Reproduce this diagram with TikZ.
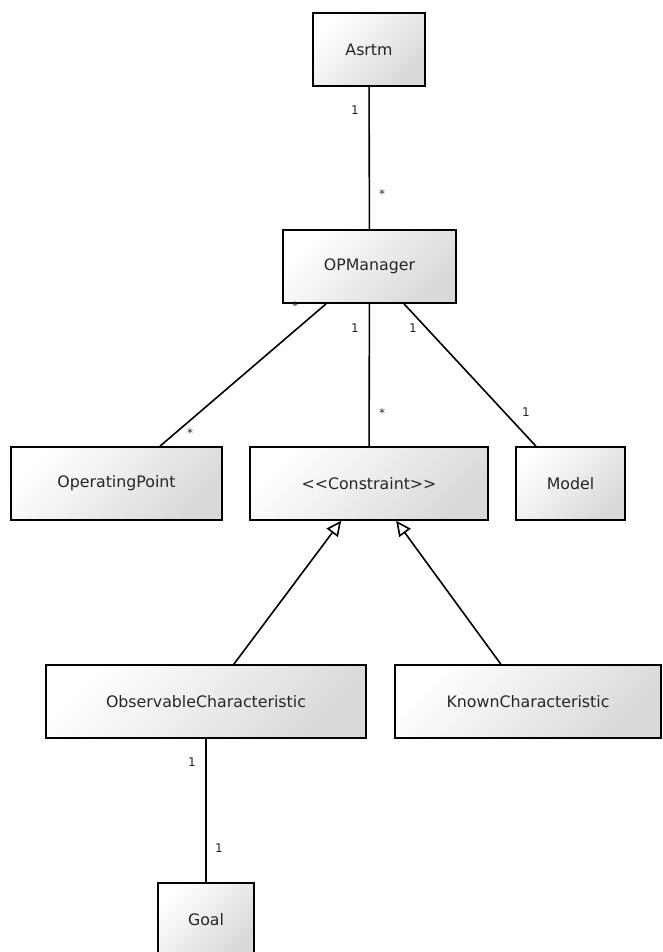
\documentclass[tikz,border=0pt]{standalone}
\usepackage{fontspec}
\setmainfont{DejaVu Sans}
\usetikzlibrary{arrows.meta}
\tikzset{
  cls/.style={draw=black, line width=1.6pt, rectangle, inner sep=0pt,
    top color=white, bottom color=black!15, shading angle=45,
    font=\fontsize{15.8}{19}\selectfont, text=black!85},
  assoc/.style={draw=black, line width=1.6pt},
  gen/.style={draw=black, line width=1.6pt,
    -{Triangle[open, length=15pt, width=14pt, line width=1.6pt, fill=white]}},
  mult/.style={font=\fontsize{12}{14}\selectfont, text=black!85, inner sep=0pt}
}
\begin{document}
\begin{tikzpicture}[x=1pt,y=-1pt]
\path[use as bounding box, clip] (0,0) rectangle (662,952);
\fill[white] (0,0) rectangle (662,952);
% classes
\node[cls, minimum width=112pt, minimum height=73pt] (asrtm) at (369,49.5) {Asrtm};
\node[cls, minimum width=173pt, minimum height=73pt] (opm) at (369.5,266.5) {OPManager};
\node[cls, minimum width=211pt, minimum height=73pt] (op) at (116.5,483.5) {OperatingPoint};
\node[cls, minimum width=238pt, minimum height=73pt] (con) at (369,483.5) {{<}{<}Constraint{>}{>}};
\node[cls, minimum width=109pt, minimum height=73pt] (model) at (570.5,483.5) {Model};
\node[cls, minimum width=320pt, minimum height=73pt] (obs) at (206,701.5) {ObservableCharacteristic};
\node[cls, minimum width=266pt, minimum height=73pt] (known) at (528,701.5) {KnownCharacteristic};
\node[cls, minimum width=96pt, minimum height=73pt] (goal) at (206,919.5) {Goal};
% connectors
\draw[assoc] (asrtm) -- (opm);
\draw[assoc] (opm) -- (op);
\draw[assoc] (opm) -- (con);
\draw[assoc] (opm) -- (model);
\draw[gen] (obs) -- (con);
\draw[gen] (known) -- (con);
\draw[assoc] (obs) -- (goal);
% multiplicities
\node[mult] (m1) at (355,110) {1};
\node[mult] (m2) at (382,194) {*};
\node[mult] (m3) at (295,306) {*};
\node[mult] (m4) at (190,433) {*};
\node[mult] (m5) at (355,328) {1};
\node[mult] (m6) at (382,413) {*};
\node[mult] (m7) at (413,328) {1};
\node[mult] (m8) at (526,412) {1};
\node[mult] (m9) at (192,762) {1};
\node[mult] (m10) at (219,848) {1};
\end{tikzpicture}
\end{document}
